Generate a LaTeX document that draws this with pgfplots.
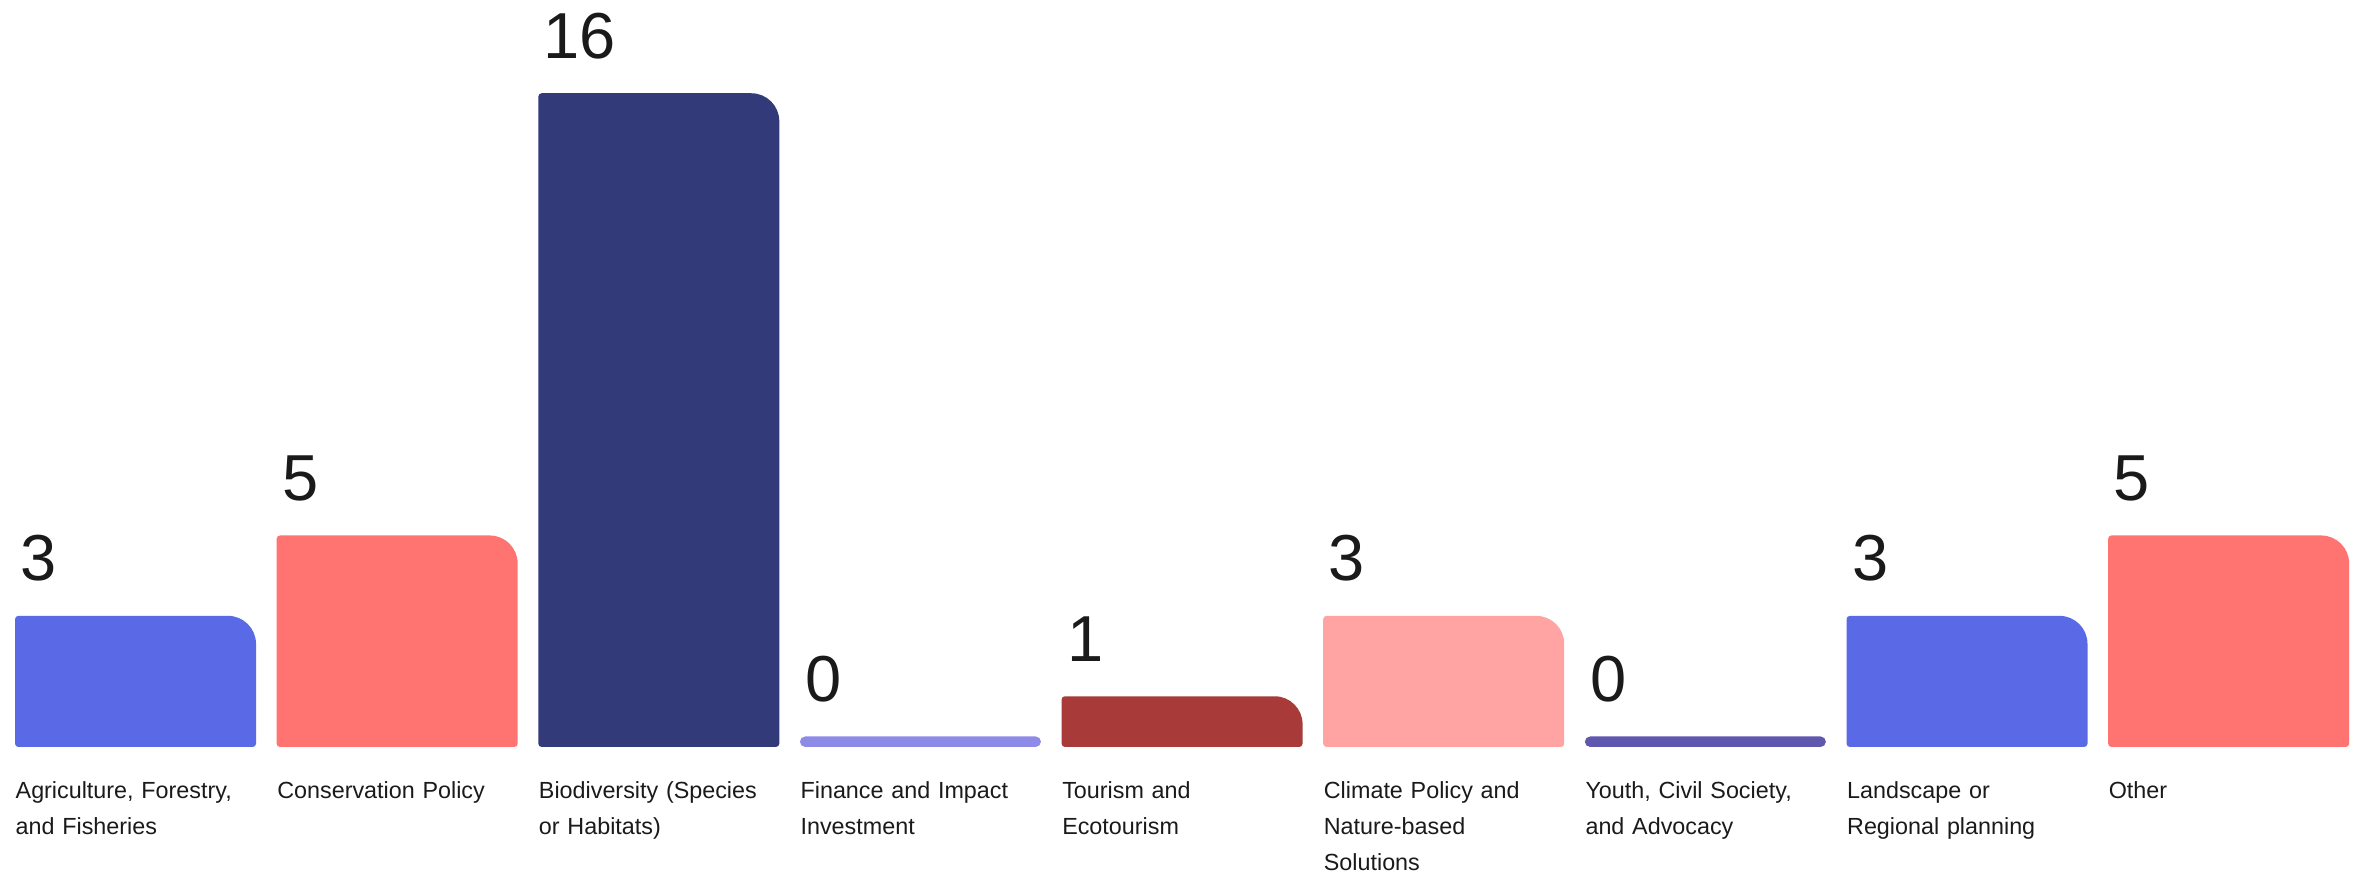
\documentclass[border=0pt]{standalone}
\usepackage{pgfplots}
\pgfplotsset{compat=1.18}
\usepackage{fontspec}
\setmainfont{Liberation Sans}
\definecolor{cBlue}{HTML}{5A6AE6}
\definecolor{cCoral}{HTML}{FF7370}
\definecolor{cNavy}{HTML}{333A7A}
\definecolor{cLav}{HTML}{8E8AE8}
\definecolor{cBrick}{HTML}{A83A3A}
\definecolor{cPink}{HTML}{FFA3A3}
\definecolor{cPurple}{HTML}{5F58AE}
\definecolor{txt}{HTML}{1A1A1A}
\pgfdeclareplotmark{rbar}{%
  \pgfmathsetmacro\hh{\rawv*12.06+3.15}%
  \pgfsetfillcolor{\barcol}%
  \ifdim\hh pt<4pt
    \pgfpathmoveto{\pgfpoint{-34.575pt}{0pt}}%
    \pgfpathlineto{\pgfpoint{34.575pt}{0pt}}%
    \pgfpatharc{90}{-90}{1.575pt}%
    \pgfpathlineto{\pgfpoint{-34.575pt}{-3.15pt}}%
    \pgfpatharc{270}{90}{1.575pt}%
    \pgfpathclose
  \else
    \pgfpathmoveto{\pgfpoint{-36.15pt}{-\hh pt+1pt}}%
    \pgfpathlineto{\pgfpoint{-36.15pt}{-1pt}}%
    \pgfpatharc{180}{90}{1pt}%
    \pgfpathlineto{\pgfpoint{27.75pt}{0pt}}%
    \pgfpatharc{90}{0}{8.4pt}%
    \pgfpathlineto{\pgfpoint{36.15pt}{-\hh pt+1pt}}%
    \pgfpatharc{0}{-90}{1pt}%
    \pgfpathlineto{\pgfpoint{-35.15pt}{-\hh pt}}%
    \pgfpatharc{270}{180}{1pt}%
    \pgfpathclose
  \fi
  \pgfusepath{fill}%
}
\begin{document}
\begin{tikzpicture}
\begin{axis}[
  x=78.49pt, y=12.06pt,
  xmin=-0.518, xmax=8.506,
  ymin=-3.445, ymax=18.32,
  clip=false,
  axis line style={draw=none},
  tick style={draw=none},
  major tick length=0pt,
  ytick=\empty,
  xtick={0,...,8},
  xticklabels={
    {Agriculture, Forestry,\\and Fisheries},
    {Conservation Policy},
    {Biodiversity (Species\\or Habitats)},
    {Finance and Impact\\Investment},
    {Tourism and\\Ecotourism},
    {Climate Policy and\\Nature-based\\Solutions},
    {Youth, Civil Society,\\and Advocacy},
    {Landscape or\\Regional planning},
    {Other}},
  xticklabel style={font=\fontsize{7}{10.8}\selectfont, text=txt,
    text width=72pt, align=left, anchor=north west, inner sep=0pt,
    xshift=-36.15pt, yshift=28.2pt},
]
\path (rel axis cs:0,0) rectangle (rel axis cs:1,1);
\addplot[
  only marks, mark=rbar,
  point meta=\thisrow{v},
  visualization depends on={\thisrow{v} \as \rawv},
  visualization depends on={value \thisrow{c} \as \barcol},
  nodes near coords={\pgfmathprintnumber[assume math mode=true]{\pgfplotspointmeta}},
  every node near coord/.append style={anchor=base west, inner sep=0pt,
    xshift=-34.7pt, yshift=10.5pt, text=txt,
    font=\fontsize{19.5}{22}\selectfont},
] table {
x v c
0 3 cBlue
1 5 cCoral
2 16 cNavy
3 0 cLav
4 1 cBrick
5 3 cPink
6 0 cPurple
7 3 cBlue
8 5 cCoral
};
\end{axis}
\end{tikzpicture}
\end{document}
